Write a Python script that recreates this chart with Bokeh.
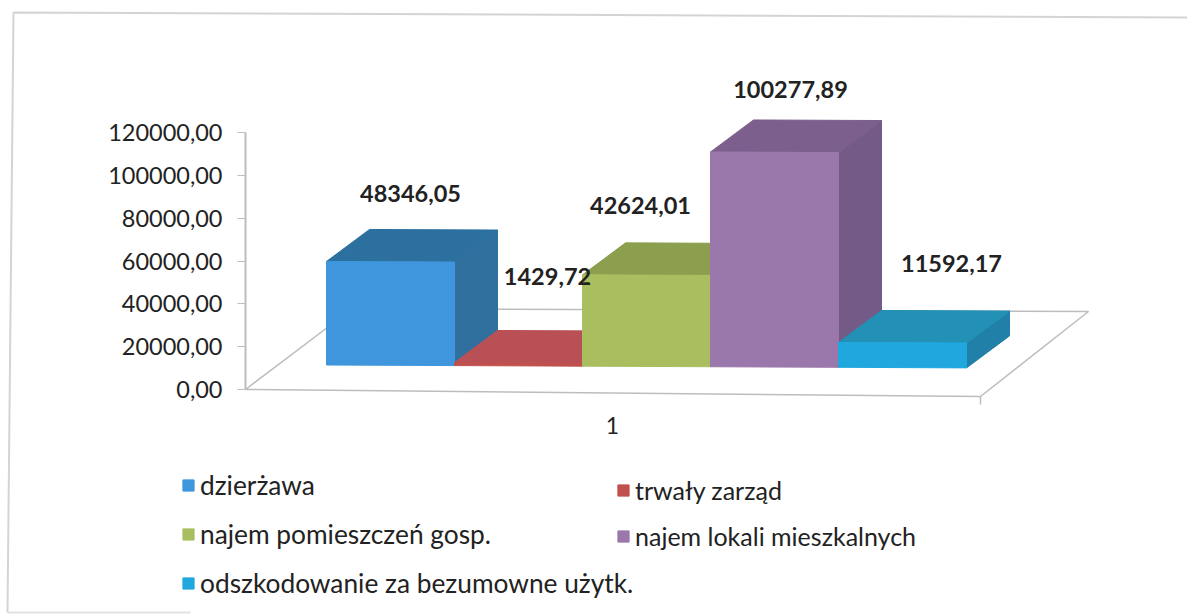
from bokeh.plotting import figure
from bokeh.models import ColumnDataSource, Legend, LegendItem, LinearAxis, FixedTicker, Range1d
from bokeh.core.properties import value
from bokeh.embed import file_html
from bokeh.resources import INLINE

# --- data
categories = ["dzierżawa", "trwały zarząd", "najem pomieszczeń gosp.",
              "najem lokali mieszkalnych", "odszkodowanie za bezumowne użytk."]
values = [48346.05, 1429.72, 42624.01, 100277.89, 11592.17]
value_labels = ["48346,05", "1429,72", "42624,01", "100277,89", "11592,17"]
y_ticks = [0, 20000, 40000, 60000, 80000, 100000, 120000]
y_tick_labels = ["0,00", "20000,00", "40000,00", "60000,00", "80000,00", "100000,00", "120000,00"]
x_category = ["1"]

# --- style
front = ["#3F96DC", "#C0504D", "#A9BF5F", "#9B78AC", "#20A8DE"]
side = ["#30709F", "#A04045", "#8B9F4E", "#735A87", "#2080A8"]
top = ["#2C70A0", "#B85055", "#8B9F4E", "#7C5F8C", "#2390B5"]
TXT = "#222222"
GRID = "#bdbdbd"

# --- layout (page pixels)
W, H = 1187, 616
AX_X = 245
Y0, Y120 = 389, 132
BAR_X0, BAR_W = 326, 128
BASE_Y = 364.5
DEPTH_X, DEPTH_Y = 43, 32
TILT = 0.0045

px_per_unit = (Y0 - Y120) / y_ticks[-1]


def Y(py):
    return (Y0 - py) / px_per_unit


p = figure(width=W, height=H, output_backend="svg", toolbar_location=None,
           x_range=Range1d(0, W), y_range=Range1d(Y(H), Y(0)),
           x_axis_type=None, y_axis_type=None,
           min_border_left=0, min_border_right=0, min_border_top=0,
           min_border_bottom=0, outline_line_color=None)
p.grid.visible = False
p.background_fill_color = "white"

# y axis
ya = LinearAxis(ticker=FixedTicker(ticks=y_ticks), bounds=(0, y_ticks[-1]), fixed_location=AX_X,
                major_label_overrides=dict(zip(y_ticks, y_tick_labels)),
                major_label_text_font="Lato", major_label_text_font_size="23.5px",
                major_label_text_color=TXT, major_label_standoff=15,
                major_tick_out=8, major_tick_in=0, minor_tick_line_color=None,
                axis_line_color=GRID, major_tick_line_color=GRID, axis_line_width=2)
p.add_layout(ya, "left")

# category axis
xa = LinearAxis(ticker=FixedTicker(ticks=[612]), fixed_location=Y(404),
                major_label_overrides={612: x_category[0]},
                major_label_text_font="Lato", major_label_text_font_size="23px",
                major_label_text_color=TXT, major_label_standoff=6,
                major_tick_line_color=None, minor_tick_line_color=None, axis_line_color=None)
p.add_layout(xa, "below")

# outer frame of the scan
p.line([7, 13, W], [Y(612), Y(12), Y(17)], line_color="#d4d4d4", line_width=2)
p.line([7, 190], [Y(612), Y(612)], line_color="#e2e2e2", line_width=2)

# floor
p.line([AX_X, 980, 1088, 352, AX_X], [Y(389), Y(396), Y(311), Y(308), Y(389)],
       line_color=GRID, line_width=1.5)
p.segment([980], [Y(396)], [980], [Y(404)], line_color=GRID, line_width=1.5)

# bars
legend_items = []
for i, v in enumerate(values):
    x0 = BAR_X0 + i * BAR_W
    x1 = x0 + BAR_W
    b0 = Y(BASE_Y + (x0 - BAR_X0) * TILT)
    b1 = Y(BASE_Y + (x1 - BAR_X0) * TILT)
    d = DEPTH_Y / px_per_unit
    t0, t1 = b0 + v, b1 + v
    p.patch([x1, x1 + DEPTH_X, x1 + DEPTH_X, x1], [b1, b1 + d, t1 + d, t1],
            fill_color=side[i], line_color=side[i])
    p.patch([x0, x1, x1 + DEPTH_X, x0 + DEPTH_X], [t0, t1, t1 + d, t0 + d],
            fill_color=top[i], line_color=top[i])
    r = p.patch([x0, x1, x1, x0], [b0, b1, t1, t0], fill_color=front[i], line_color=front[i])
    legend_items.append(LegendItem(label=categories[i], renderers=[r]))

# value labels
label_dx = [-23, -14, -49, -27, 6]
label_dy = [-36, -54, -38, -31, -47]
lx, ly = [], []
for i, v in enumerate(values):
    x0 = BAR_X0 + i * BAR_W
    lx.append(x0 + BAR_W / 2 + DEPTH_X + label_dx[i])
    ly.append(Y(BASE_Y + (x0 + BAR_W / 2 - BAR_X0) * TILT) + v + DEPTH_Y / px_per_unit)
src = ColumnDataSource(dict(x=lx, y=ly, t=value_labels, dy=label_dy))
p.text("x", "y", text="t", source=src, text_align="center", text_baseline="middle",
       y_offset="dy", text_font=value("Lato"), text_font_style="bold",
       text_font_size="23.5px", text_color=TXT)

# legends (two independent columns, as the long last entry runs under the second one)
common = dict(orientation="vertical", background_fill_alpha=0, border_line_color=None,
              label_text_font="Lato", label_text_color=TXT,
              glyph_width=14, glyph_height=14, padding=0, margin=0, label_height=30)
p.add_layout(Legend(items=legend_items[0::2], location=(181, H - 599), spacing=17,
                    label_text_font_size="26.3px", label_standoff=5, **common), "center")
p.add_layout(Legend(items=legend_items[1::2], location=(616, H - 551), spacing=16,
                    label_text_font_size="25px", label_standoff=5, **common), "center")

open("out.html", "w").write(file_html(p, INLINE))
